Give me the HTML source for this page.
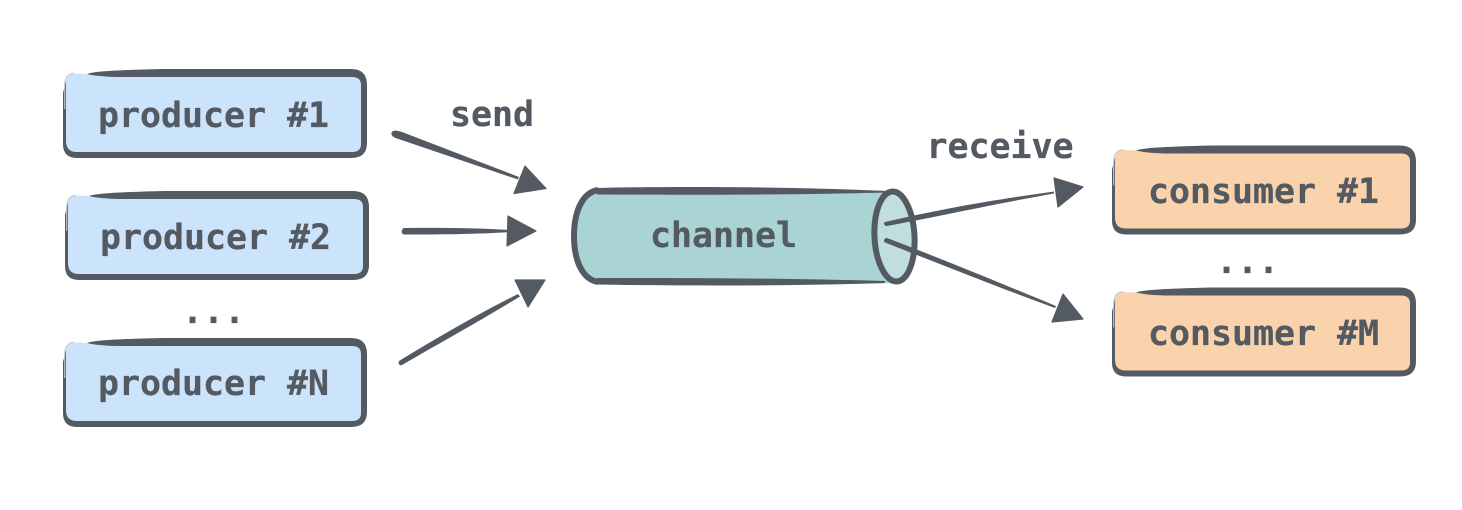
<!DOCTYPE html>
<html>
<head>
<meta charset="utf-8">
<style>
html,body{margin:0;padding:0;background:#fff;width:1462px;height:510px;overflow:hidden}
svg{display:block}
text{font-family:"DejaVu Sans Mono","Liberation Mono",monospace;font-weight:bold;font-size:34.9px;fill:#545a61;stroke:#545a61;stroke-width:.25}
</style>
</head>
<body>
<svg width="1462" height="510" viewBox="0 0 1462 510" xmlns="http://www.w3.org/2000/svg">
<rect width="1462" height="510" fill="#fff"/>
<defs>
<path id="o" d="M24 5 C32 2 60 1 100 0 L288 0 Q304 0 304 16 L304 74 Q304 89 288 89 L14 89 Q0 89 0 75 L0 24 L3 12 Z" fill="#545a61"/>
<path id="i" d="M12 4.500 Q3 4.500 3 15 L3 72 Q3 83 14 83 L289 83 Q298 83 298 75 L298 16 Q298 8 289 8 L60 8 C45 8 32 7 24 5 Z"/>
<path id="e" d="M1.700 40 L1.700 15 Q2.500 5 11 4.200" fill="none" stroke="#c2c8ce" stroke-width="1.100"/>
</defs>
<!-- boxes -->
<use href="#o" x="63" y="69"/><use href="#i" x="63" y="69" fill="#cce3fc"/><use href="#e" x="63" y="69"/>
<use href="#o" x="65" y="191"/><use href="#i" x="65" y="191" fill="#cce3fc"/><use href="#e" x="65" y="191"/>
<use href="#o" x="63" y="338"/><use href="#i" x="63" y="338" fill="#cce3fc"/><use href="#e" x="63" y="338"/>
<use href="#o" x="1112" y="145.500"/><use href="#i" x="1112" y="145.500" fill="#fad3ac"/><use href="#e" x="1112" y="145.500"/>
<use href="#o" x="1112" y="287.500"/><use href="#i" x="1112" y="287.500" fill="#fad3ac"/><use href="#e" x="1112" y="287.500"/>
<!-- channel -->
<path d="M597 190 C660 187 800 188 893 191 L893 283 C800 285 660 285 597 284 C580 280 573 258 573 236 C573 214 580 194 597 190 Z" fill="#aad3d3"/>
<path d="M597 188 C680 186 800 187 885 191 L885 192.500 C800 195 680 195 597 194.500 Z" fill="#545a61"/>
<path d="M597 278 C680 278 780 278 885 281 L885 283 C800 286 680 286 597 284.500 Z" fill="#545a61"/>
<path d="M598 190 C581 193 574 214 574 236 C574 258 581 279 598 282" fill="none" stroke="#545a61" stroke-width="6"/>
<ellipse cx="894.500" cy="236.500" rx="20" ry="45" fill="#c0dedd" stroke="#545a61" stroke-width="6" transform="rotate(-3 894.500 236.500)"/>
<!-- arrows -->
<g fill="#545a61">
<path d="M393 131 C396 130 399 131 402 132 L519 177 L518 179.500 L397 138.500 C391 136.500 390 133 393 131 Z"/>
<path d="M525 166 L546 188.500 L514 193.500 Z" stroke="#545a61" stroke-width="1.200" stroke-linejoin="round"/>
<path d="M404 228 C440 227.500 480 228 510 230 L510 232 C480 234 440 234.500 404 234.500 C401 234 401 229 404 228 Z"/>
<path d="M508 216 L536 231 L507 246 Z" stroke="#545a61" stroke-width="1.200" stroke-linejoin="round"/>
<path d="M399 361 C440 336 480 313 518 294 L520 296.500 C480 321 440 343 402 365 C399 366 398 363 399 361 Z"/>
<path d="M515 280 L545 280 L528 307 Z" stroke="#545a61" stroke-width="1.200" stroke-linejoin="round"/>
<path d="M885 222 C950 207 1000 199 1054 191.500 L1054 193.500 C1000 203 950 214 887 226 C884 226 883 223 885 222 Z"/>
<path d="M1054 178 L1083 187 L1058 207 Z" stroke="#545a61" stroke-width="1.200" stroke-linejoin="round"/>
<path d="M887 238 C950 262 1000 283 1056 306 L1055 308 C1000 288 950 268 885 242.500 C883 241 884 238 887 238 Z"/>
<path d="M1063 294 L1083 319 L1052 322 Z" stroke="#545a61" stroke-width="1.200" stroke-linejoin="round"/>
</g>
<!-- labels -->
<text x="98" y="127">producer #1</text>
<text x="100" y="249">producer #2</text>
<text x="98" y="395">producer #N</text>
<text x="182" y="323">...</text>
<text x="450" y="126">send</text>
<text x="650" y="247">channel</text>
<text x="926.500" y="158">receive</text>
<text x="1148" y="203">consumer #1</text>
<text x="1148" y="345">consumer #M</text>
<text x="1216" y="273">...</text>
</svg>
</body>
</html>
